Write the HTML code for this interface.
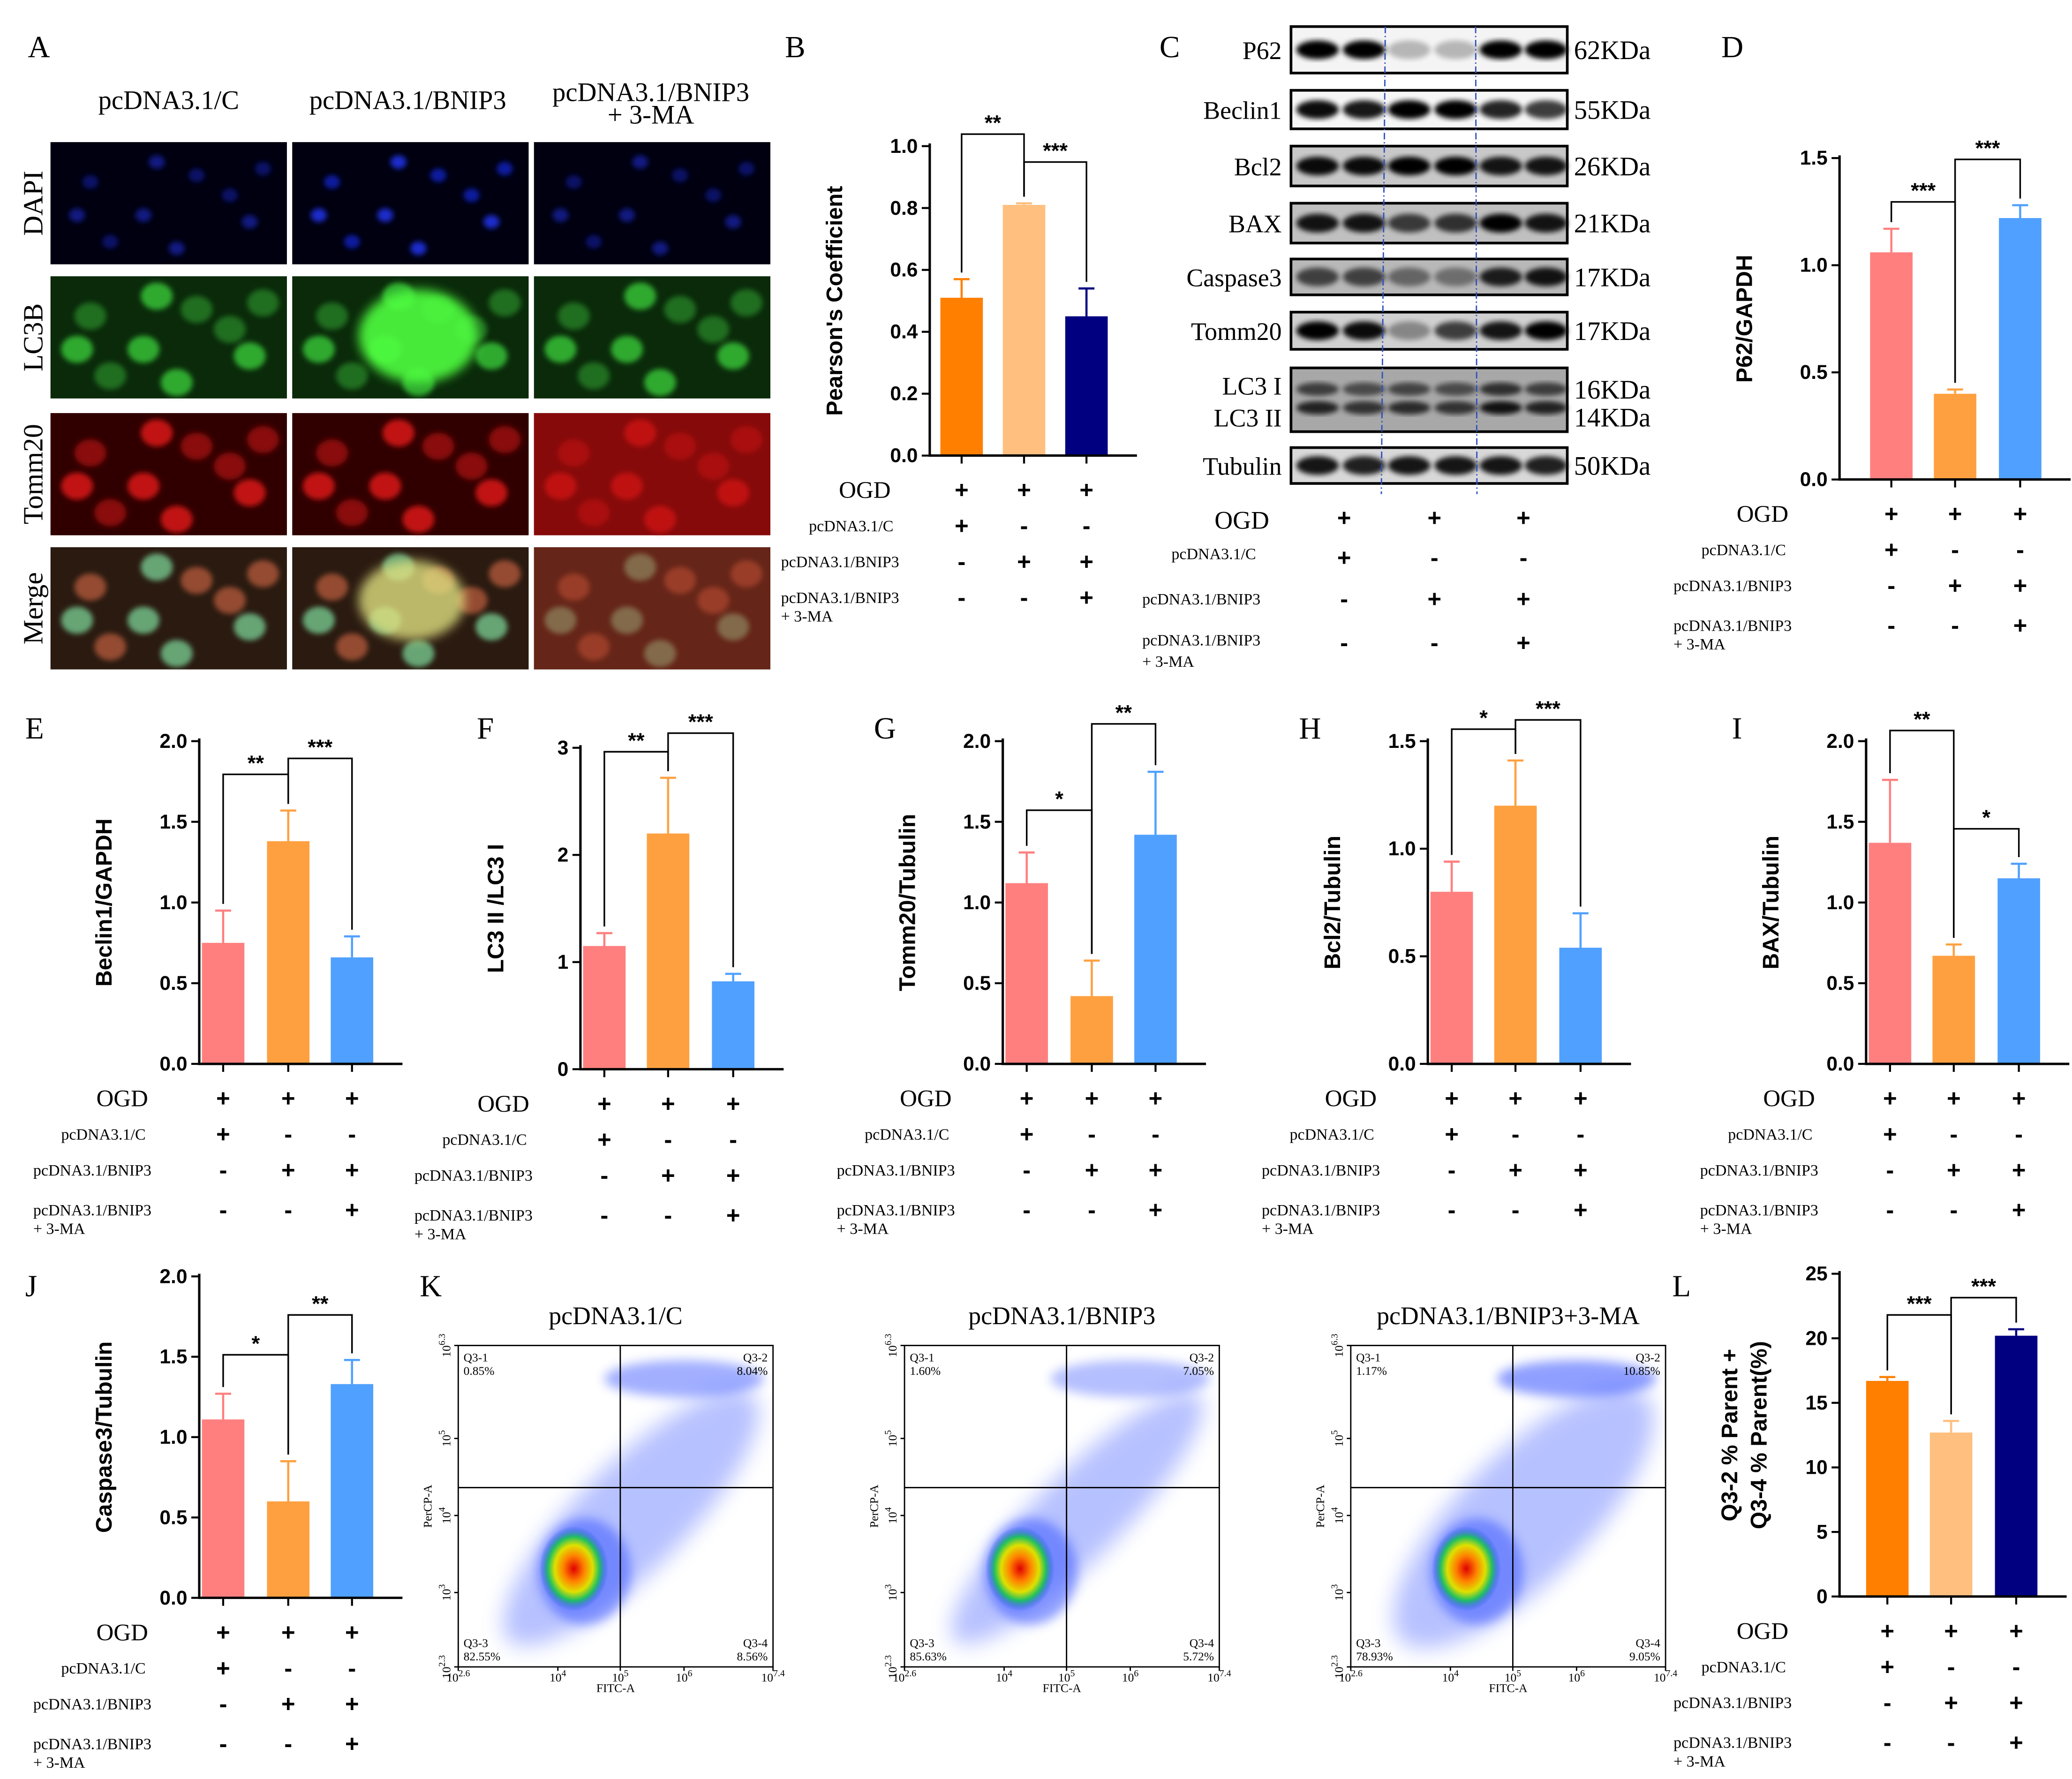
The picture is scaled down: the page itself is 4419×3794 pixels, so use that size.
<!DOCTYPE html>
<html><head><meta charset="utf-8"><style>
html,body{margin:0;padding:0;background:#fff}
svg{display:block}
text{font-family:"Liberation Serif",serif}
.ax{font-family:"Liberation Sans",sans-serif;font-weight:bold}
</style></head><body>
<svg id="fig" width="4419" height="3794" viewBox="0 0 1560 1339.4" xmlns="http://www.w3.org/2000/svg">
<defs>
<filter id="blur2" x="-20%" y="-20%" width="140%" height="140%"><feGaussianBlur stdDeviation="2"/></filter>
<filter id="blur4" x="-50%" y="-50%" width="200%" height="200%"><feGaussianBlur stdDeviation="4"/></filter>
<filter id="blur8" x="-50%" y="-50%" width="200%" height="200%"><feGaussianBlur stdDeviation="8"/></filter>
<radialGradient id="hot"><stop offset="0" stop-color="#e00000"/><stop offset="0.3" stop-color="#ff8000"/><stop offset="0.55" stop-color="#e0e000"/><stop offset="0.75" stop-color="#20c060"/><stop offset="1" stop-color="#2040ff" stop-opacity="0"/></radialGradient>
</defs>
<g id="root"></g>
</svg>
<script>
// ---------- Chart data ----------
const groups = ["pcDNA3.1/C","pcDNA3.1/BNIP3","pcDNA3.1/BNIP3 + 3-MA"];
const bVals=[0.51,0.81,0.45]; const bErrs=[0.06,0.005,0.09]; const bTicks=[0,0.2,0.4,0.6,0.8,1.0];
const dVals=[1.06,0.40,1.22]; const dErrs=[0.11,0.02,0.06]; const dTicks=[0,0.5,1.0,1.5];
const eVals=[0.75,1.38,0.66]; const eErrs=[0.20,0.19,0.13]; const eTicks=[0,0.5,1.0,1.5,2.0];
const fVals=[1.15,2.20,0.82]; const fErrs=[0.12,0.52,0.07]; const fTicks=[0,1,2,3];
const gVals=[1.12,0.42,1.42]; const gErrs=[0.19,0.22,0.39]; const gTicks=[0,0.5,1.0,1.5,2.0];
const hVals=[0.80,1.20,0.54]; const hErrs=[0.14,0.21,0.16]; const hTicks=[0,0.5,1.0,1.5];
const iVals=[1.37,0.67,1.15]; const iErrs=[0.39,0.07,0.09]; const iTicks=[0,0.5,1.0,1.5,2.0];
const jVals=[1.11,0.60,1.33]; const jErrs=[0.16,0.25,0.15]; const jTicks=[0,0.5,1.0,1.5,2.0];
const lVals=[16.7,12.7,20.2]; const lErrs=[0.3,0.9,0.5]; const lTicks=[0,5,10,15,20,25];
const ogdRow=["+","+","+"]; const cRow=["+","-","-"]; const bnRow=["-","+","+"]; const maRow=["-","-","+"];
const quadC=["0.85%","8.04%","8.56%","82.55%"]; const quadB=["1.60%","7.05%","5.72%","85.63%"]; const quadM=["1.17%","10.85%","9.05%","78.93%"];
const blotNames=["P62","Beclin1","Bcl2","BAX","Caspase3","Tomm20","LC3","Tubulin"];
const blotKDa=["62KDa","55KDa","26KDa","21KDa","17KDa","17KDa","16KDa","50KDa"];
const blotInt=[[1,1,.25,.25,1,1],[.95,.9,1,1,.85,.75],[.95,.95,1,1,.9,.9],[.9,.9,.7,.75,1,.9],[.65,.65,.45,.4,.85,.9],[1,.95,.35,.7,.9,1],[.8,.7,.75,.7,.9,.8],[.9,.85,.9,.9,.9,.85]];

const NS="http://www.w3.org/2000/svg";
const root=document.getElementById('root');
function el(tag,attrs,parent){const e=document.createElementNS(NS,tag);for(const k in attrs)e.setAttribute(k,attrs[k]);(parent||root).appendChild(e);return e;}
function txt(x,y,s,size,attrs,parent){const t=el('text',Object.assign({x:x,y:y,'font-size':size},attrs||{}),parent);t.textContent=s;return t;}

// ---------- Panel letters ----------
const letters=[["A",30,43],["B",600,43],["C",882,43],["D",1305,43],["E",28,556],["F",368,556],["G",667,556],["H",987,556],["I",1313,556],["J",28,976],["K",325,976],["L",1268,976]];
letters.forEach(l=>{const t=txt(l[1]-9,l[2],l[0],23);

});

// ---------- Bar chart ----------
function barChart(name,ax,y0,yTop,tMax,centers,colors,vals,errs,ticks,ylabel,sigs,rowOff,labOff){
  const g=el('g',{});
  
  
  const sy=v=>y0-(v/tMax)*(y0-yTop);
  const bw=32;
  vals.forEach((v,i)=>{
    const r=el('rect',{x:centers[i]-bw/2,y:sy(v),width:bw,height:y0-sy(v),fill:colors[i]},g);
    
    
    const e=el('path',{d:`M${centers[i]} ${sy(v)}V${sy(v+errs[i])}M${centers[i]-6} ${sy(v+errs[i])}H${centers[i]+6}`,stroke:colors[i],'stroke-width':1.6,fill:'none'},g);
    
    
  });
  const xEnd=centers[2]+38;
  el('path',{d:`M${ax} ${yTop-2}V${y0}H${xEnd}`,stroke:'#000','stroke-width':1.8,fill:'none'},g);
  centers.forEach(c=>el('path',{d:`M${c} ${y0}v6`,stroke:'#000','stroke-width':1.5},g));
  const allInt=ticks.every(t=>Number.isInteger(t));
  ticks.forEach(t=>{
    el('path',{d:`M${ax} ${sy(t)}h-6`,stroke:'#000','stroke-width':1.5},g);
    const tl=txt(ax-9,sy(t)+5,(allInt?t:t.toFixed(1)).toString(),15,{'text-anchor':'end','class':'ax'},g);
    
    
  });
  const midY=(y0+yTop)/2, lx=ax-(tMax>=5?55:allInt?58:66);
  if(Array.isArray(ylabel)){
    ylabel.forEach((s,k)=>{const yl=txt(0,0,s,17,{'text-anchor':'middle','class':'ax',transform:`translate(${lx-22+k*22},${midY}) rotate(-90)`},g);
    
    });
  } else {
    const yl=txt(0,0,ylabel,17,{'text-anchor':'middle','class':'ax',transform:`translate(${lx},${midY}) rotate(-90)`},g);
    
    
  }
  sigs.forEach(s=>{
    const a=s[0],b=s[1],by=s[2];
    const ta=sy(vals[a]+errs[a])-5, tb=sy(vals[b]+errs[b])-5;
    const p=el('path',{d:`M${centers[a]} ${ta}V${by}H${centers[b]}V${tb}`,stroke:'#000','stroke-width':1.2,fill:'none'},g);
    
    
    const st=txt((centers[a]+centers[b])/2,by-3,s[3],16,{'text-anchor':'middle','class':'ax'},g);
    
    
  });
  conditionRows(name,ax,y0,centers,rowOff||0,labOff||0,g);
}
function conditionRows(name,ax,y0,centers,off,lo,g){
  const rows=[[ogdRow,26],[cRow,53],[bnRow,80],[maRow,110+off]];
  const o=txt(ax-58+lo*0.7,y0+rows[0][1]+6,"OGD",18,{'text-anchor':'middle'},g);
  
  
  const l1=txt(ax-104+lo,y0+rows[1][1]+4,"pcDNA3.1/C",12,{},g);
  
  
  const l2=txt(ax-125+lo,y0+rows[2][1]+4,"pcDNA3.1/BNIP3",12,{},g);
  
  
  const l3=txt(ax-125+lo,y0+rows[3][1]+4,"pcDNA3.1/BNIP3",12,{},g);
  
  
  txt(ax-125+lo,y0+rows[3][1]+18,"+ 3-MA",12,{},g);
  rows.forEach(r=>r[0].forEach((s,i)=>{
    const t=txt(centers[i],y0+r[1]+6,s,18,{'text-anchor':'middle','class':'ax'},g);
    
    
  }));
}
const C3=["#FF7F7F","#FFA040","#50A0FF"], CB=["#FF7F00","#FFBF7F","#000080"];
barChart('panel-b-chart',700,343,110,1.0,[724,771,818],CB,bVals,bErrs,bTicks,"Pearson's Coefficient",[[0,1,101,"**"],[1,2,122,"***"]],-3,13);
barChart('panel-d-chart',1385,361,119,1.5,[1424,1472,1521],C3,dVals,dErrs,dTicks,"P62/GAPDH",[[0,1,152,"***"],[1,2,120,"***"]]);
barChart('panel-e-chart',150,801,558,2.0,[168,217,265],C3,eVals,eErrs,eTicks,"Beclin1/GAPDH",[[0,1,583,"**"],[1,2,571,"***"]]);
barChart('panel-f-chart',437,805,563,3,[455,503,552],C3,fVals,fErrs,fTicks,"LC3 II /LC3 I",[[0,1,566,"**"],[1,2,552,"***"]]);
barChart('panel-g-chart',755,801,558,2.0,[773,822,870],C3,gVals,gErrs,gTicks,"Tomm20/Tubulin",[[0,1,610,"*"],[1,2,545,"**"]]);
barChart('panel-h-chart',1075,801,558,1.5,[1093,1141,1190],C3,hVals,hErrs,hTicks,"Bcl2/Tubulin",[[0,1,549,"*"],[1,2,542,"***"]]);
barChart('panel-i-chart',1405,801,558,2.0,[1423,1471,1520],C3,iVals,iErrs,iTicks,"BAX/Tubulin",[[0,1,550,"**"],[1,2,624,"*"]]);
barChart('panel-j-chart',150,1203,961,2.0,[168,217,265],C3,jVals,jErrs,jTicks,"Caspase3/Tubulin",[[0,1,1020,"*"],[1,2,990,"**"]]);
barChart('panel-l-chart',1385,1202,959,25,[1421,1469,1518],CB,lVals,lErrs,lTicks,["Q3-2 % Parent +","Q3-4 % Parent(%)"],[[0,1,990,"***"],[1,2,977,"***"]]);

// ---------- Panel A microscopy ----------
(function(){
  const g=el('g',{});
  
  
  const cols=[38,220,402], rows=[107,208,311,412], w=178, h=92;
  const heads=[[127,82,"pcDNA3.1/C"],[307,82,"pcDNA3.1/BNIP3"],[490,76,"pcDNA3.1/BNIP3"],[490,93,"+ 3-MA"]];
  heads.forEach(hd=>{const t=txt(hd[0],hd[1],hd[2],20,{'text-anchor':'middle'},g);
  
  });
  const rl=["DAPI","LC3B","Tomm20","Merge"];
  rl.forEach((s,i)=>{const t=txt(0,0,s,21,{'text-anchor':'middle',transform:`translate(32,${rows[i]+h/2}) rotate(-90)`},g);
  
  });
  const bg=["#000010","#0a2a0a","#300000","#2a1a10"];
  const fg=[["#1020b0","#2030e0"],["#2a8a2a","#40e040"],["#b01010","#ff2020"],["#c06040","#80e0a0"]];
  const spots=[[30,30],[70,55],[110,25],[150,60],[45,75],[95,80],[135,40],[20,55],[160,20],[80,15]];
  rows.forEach((ry,ri)=>cols.forEach((cx,ci)=>{
    el('rect',{x:cx,y:ry,width:w,height:h,fill:bg[ri]},g);
    const cg=el('g',{filter:'url(#blur2)'},g);
    spots.forEach((s,k)=>{
      let rr=ri==0?6:12;
      el('ellipse',{cx:cx+s[0],cy:ry+s[1],rx:rr,ry:rr*0.85,fill:fg[ri][k%2],opacity:ri==0?(ci==1?0.9:0.55):0.7},cg);
    });
    if(ri==1&&ci==1){el('ellipse',{cx:cx+95,cy:ry+45,rx:45,ry:35,fill:'#50ff40',opacity:.9,filter:'url(#blur4)'},g);}
    if(ri==2&&ci==2){el('rect',{x:cx,y:ry,width:w,height:h,fill:'#c01010',opacity:.6},g);}
    if(ri==3&&ci==1){el('ellipse',{cx:cx+90,cy:ry+40,rx:40,ry:30,fill:'#e0e080',opacity:.8,filter:'url(#blur4)'},g);}
    if(ri==3&&ci==2){el('rect',{x:cx,y:ry,width:w,height:h,fill:'#a03020',opacity:.5},g);}
  }));
})();

// ---------- Panel C western blot ----------
(function(){
  const g=el('g',{});
  
  
  const boxes=[[20,55],[68,97],[110,140],[153,183],[195,222],[235,263],[277,325],[337,364]];
  const lanes=[992,1027,1061,1096,1130,1164];
  const bgs=["#f4f4f4","#f6f6f6","#c8c8c8","#c0c0c0","#b8b8b8","#d0d0d0","#a8a8a8","#d8d8d8"];
  boxes.forEach((b,i)=>{
    el('rect',{x:972,y:b[0],width:208,height:b[1]-b[0],fill:bgs[i],stroke:'#000','stroke-width':2},g);
    const bandY=i==6?[(b[0]+16),(b[0]+30)]:[(b[0]+b[1])/2];
    bandY.forEach((yy,bi)=>lanes.forEach((lx,li)=>{
      const d=blotInt[i][li]*(bi==0&&i==6?0.8:1);
      el('ellipse',{cx:lx,cy:yy,rx:16,ry:i==6?5:7,fill:'#000',opacity:d,filter:'url(#blur2)'},g);
    }));
    const kd=txt(1185,(i==6?b[0]+16:(b[0]+b[1])/2)+7,blotKDa[i],20,{},g);
    
    
    if(i==6){txt(1185,b[0]+44,"14KDa",20,{},g);
      txt(965,b[0]+20,"LC3 I",19,{'text-anchor':'end'},g);
      const t=txt(965,b[0]+44,"LC3 II",19,{'text-anchor':'end'},g);
      
      
    } else {
      const t=txt(965,(b[0]+b[1])/2+7,blotNames[i],19,{'text-anchor':'end'},g);
      
      
    }
  });
  el('path',{d:'M1043 20L1040 372M1111 20L1112 372',stroke:'#3050c0','stroke-width':1,'stroke-dasharray':'5 2 1 2',fill:'none'},g);
  const cx=[1012,1080,1147];
  txt(935,398,"OGD",19,{'text-anchor':'middle'},g);
  txt(882,421,"pcDNA3.1/C",12,{},g);
  txt(860,455,"pcDNA3.1/BNIP3",12,{},g);
  txt(860,486,"pcDNA3.1/BNIP3",12,{},g);
  txt(860,502,"+ 3-MA",12,{},g);
  [[ogdRow,390],[cRow,420],[bnRow,451],[maRow,484]].forEach(r=>r[0].forEach((s,i)=>{
    const t=txt(cx[i],r[1]+6,s,18,{'text-anchor':'middle','class':'ax'},g);
    
    
  }));
})();

// ---------- Panel K flow cytometry ----------
function flowPlot(name,x0,title,q,spread){
  const g=el('g',{});
  
  
  const y0=1013,w=237,h=242,qx=x0+122,qy=1120;
  const tt=txt(x0+w/2,997,title,19,{'text-anchor':'middle'},g);
  
  
  const cl=el('clipPath',{id:'c'+name},g);
  el('rect',{x:x0,y:y0,width:w,height:h},cl);
  const inner=el('g',{'clip-path':`url(#c${name})`},g);
  el('ellipse',{cx:x0+130,cy:y0+130,rx:40*spread,ry:130,transform:`rotate(45 ${x0+130} ${y0+130})`,fill:'#3050ff',opacity:.35,filter:'url(#blur8)'},inner);
  el('ellipse',{cx:x0+170,cy:y0+25,rx:60,ry:14,fill:'#3050ff',opacity:.45*spread,filter:'url(#blur4)'},inner);
  el('ellipse',{cx:x0+95,cy:y0+170,rx:35,ry:40,fill:'#3050ff',opacity:.5,filter:'url(#blur4)'},inner);
  el('ellipse',{cx:x0+87,cy:y0+168,rx:26,ry:32,fill:'url(#hot)'},inner);
  el('rect',{x:x0,y:y0,width:w,height:h,fill:'none',stroke:'#000','stroke-width':1},g);
  el('path',{d:`M${qx} ${y0}V${y0+h}M${x0} ${qy}H${x0+w}`,stroke:'#000','stroke-width':1},g);
  const s=9;
  txt(x0+4,y0+12,"Q3-1",s,{'font-family':'Liberation Sans'},g); txt(x0+4,y0+22,q[0],s,{'font-family':'Liberation Sans'},g);
  txt(x0+w-4,y0+12,"Q3-2",s,{'text-anchor':'end','font-family':'Liberation Sans'},g); txt(x0+w-4,y0+22,q[1],s,{'text-anchor':'end','font-family':'Liberation Sans'},g);
  txt(x0+w-4,y0+h-15,"Q3-4",s,{'text-anchor':'end','font-family':'Liberation Sans'},g); txt(x0+w-4,y0+h-5,q[2],s,{'text-anchor':'end','font-family':'Liberation Sans'},g);
  txt(x0+4,y0+h-15,"Q3-3",s,{'font-family':'Liberation Sans'},g); txt(x0+4,y0+h-5,q[3],s,{'font-family':'Liberation Sans'},g);
  const xl=txt(x0+w/2,y0+h+19,"FITC-A",9,{'text-anchor':'middle','font-family':'Liberation Sans'},g);
  
  
  const yl=txt(0,0,"PerCP-A",9,{'text-anchor':'middle','font-family':'Liberation Sans',transform:`translate(${x0-20},${y0+h/2}) rotate(-90)`},g);
  
  
  const xt=[["2.6",0],["4",75],["5",122],["6",170],["7.4",237]];
  xt.forEach(t=>{el('path',{d:`M${x0+t[1]} ${y0+h}v3`,stroke:'#000'},g);
    const tl=txt(x0+t[1],y0+h+11,"10",9,{'text-anchor':'middle','font-family':'Liberation Sans'},g);
    const sp=document.createElementNS(NS,'tspan');sp.setAttribute('dy','-4');sp.setAttribute('font-size','7');sp.textContent=t[0];tl.appendChild(sp);});
  const yt=[["6.3",0],["5",70],["4",128],["3",186],["2.3",242]];
  yt.forEach(t=>{el('path',{d:`M${x0} ${y0+t[1]}h-3`,stroke:'#000'},g);
    const tl=txt(0,0,"10",9,{'text-anchor':'middle','font-family':'Liberation Sans',transform:`translate(${x0-6},${y0+t[1]}) rotate(-90)`},g);
    const sp=document.createElementNS(NS,'tspan');sp.setAttribute('dy','-4');sp.setAttribute('font-size','7');sp.textContent=t[0];tl.appendChild(sp);});
}
flowPlot('flow-plot-control',345,"pcDNA3.1/C",quadC,1);
flowPlot('flow-plot-bnip3',681,"pcDNA3.1/BNIP3",quadB,0.8);
flowPlot('flow-plot-bnip3-3ma',1017,"pcDNA3.1/BNIP3+3-MA",quadM,1.2);
</script>
</body></html>
